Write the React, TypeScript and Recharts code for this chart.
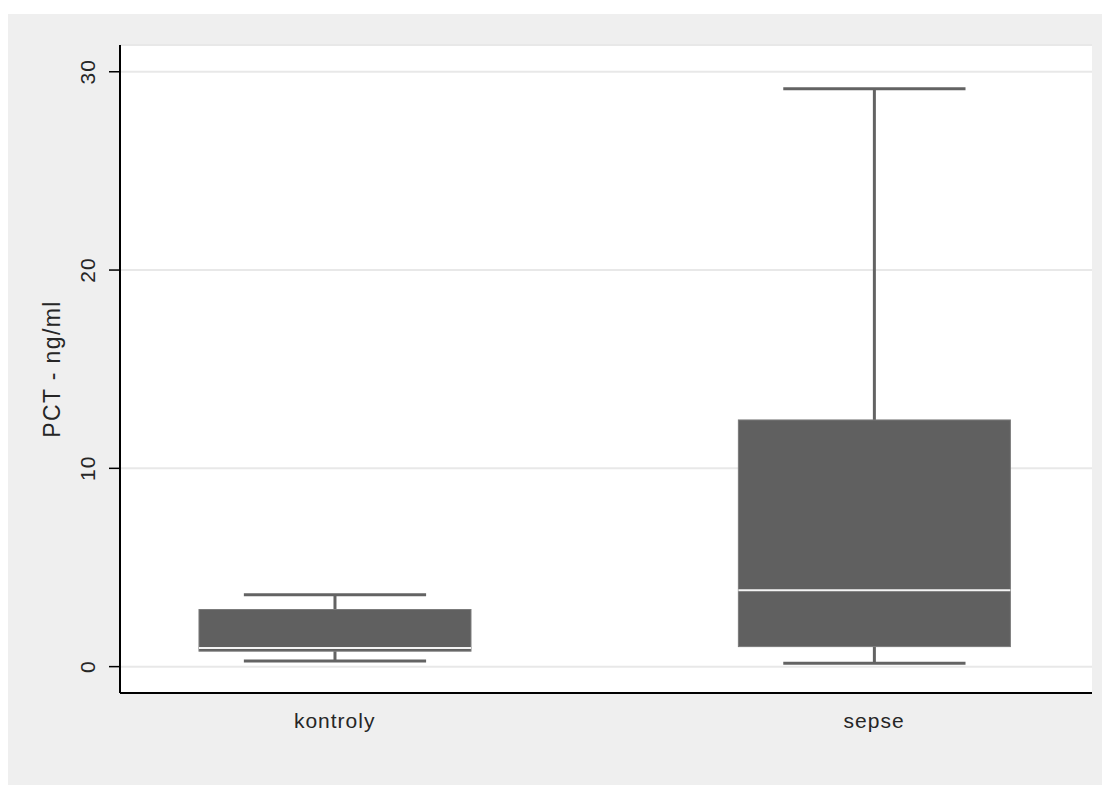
import { ComposedChart, Bar, XAxis, YAxis, CartesianGrid } from "recharts";

const CATEGORIES = ["kontroly", "sepse"];
const POSITIONS = [0, 1];
const MIN = [0.29, 0.17];
const Q1 = [0.78, 1.01];
const MEDIAN = [0.94, 3.85];
const Q3 = [2.88, 12.44];
const MAX = [3.62, 29.14];
const Y_TICKS = [0, 10, 20, 30];

const FONT = "'Liberation Sans', Arial, sans-serif";
const BOX_FILL = "#606060";
const WHISKER = "#636363";
const TEXT = "#262626";

const data = CATEGORIES.map((name, i) => ({
  name,
  pos: POSITIONS[i],
  min: MIN[i],
  q1: Q1[i],
  median: MEDIAN[i],
  q3: Q3[i],
  max: MAX[i],
}));

// the bar spans [min, max]; the other stats are placed along that pixel range
function BoxShape(props: any) {
  const { x, y, width, height, payload } = props;
  const top = Math.min(y, y + height);
  const h = Math.abs(height);
  const span = payload.max - payload.min;
  const py = (v: number) => top + ((payload.max - v) / span) * h;
  const cx = x + width / 2;
  const half = (width * 0.67) / 2;
  const yMax = py(payload.max);
  const yQ3 = py(payload.q3);
  const yMed = py(payload.median);
  const yQ1 = py(payload.q1);
  const yMin = py(payload.min);
  return (
    <g>
      <line x1={cx} x2={cx} y1={yMax} y2={yQ3} stroke={WHISKER} strokeWidth={3} />
      <line x1={cx} x2={cx} y1={yQ1} y2={yMin} stroke={WHISKER} strokeWidth={3} />
      <line x1={cx - half} x2={cx + half} y1={yMax} y2={yMax} stroke={WHISKER} strokeWidth={3} />
      <line x1={cx - half} x2={cx + half} y1={yMin} y2={yMin} stroke={WHISKER} strokeWidth={3} />
      <rect
        x={x}
        y={yQ3}
        width={width}
        height={yQ1 - yQ3}
        fill={BOX_FILL}
        stroke="#7a7a7a"
        strokeWidth={1}
      />
      <line x1={x} x2={x + width} y1={yMed} y2={yMed} stroke="#f4f4f4" strokeWidth={2} />
    </g>
  );
}

function XTick(props: any) {
  const { x, y, payload } = props;
  return (
    <text
      x={x}
      y={y + 35}
      textAnchor="middle"
      fill={TEXT}
      fontSize={21}
      letterSpacing={1}
      fontFamily={FONT}
    >
      {CATEGORIES[payload.value]}
    </text>
  );
}

function YTick(props: any) {
  const { x, y, payload } = props;
  return (
    <text
      transform={`translate(${x - 14},${y}) rotate(-90)`}
      textAnchor="middle"
      fill={TEXT}
      fontSize={21}
      letterSpacing={1}
      fontFamily={FONT}
    >
      {payload.value}
    </text>
  );
}

function YTitle(props: any) {
  const { viewBox } = props;
  const cx = viewBox.x + 52;
  const cy = viewBox.y + viewBox.height / 2;
  return (
    <text
      transform={`translate(${cx},${cy}) rotate(-90)`}
      textAnchor="middle"
      fill={TEXT}
      fontSize={23}
      letterSpacing={1.4}
      fontFamily={FONT}
    >
      PCT - ng/ml
    </text>
  );
}

export default function App() {
  return (
    <div style={{ marginTop: 6, width: 1102, height: 771, background: "#efefef" }}>
      <ComposedChart
        width={1102}
        height={771}
        data={data}
        margin={{ top: 31, right: 18, bottom: 0, left: 0 }}
      >
        <CartesianGrid vertical={false} fill="#ffffff" stroke="#e8e8e8" strokeWidth={2} />
        <XAxis
          type="number"
          dataKey="pos"
          domain={[-0.398, 1.404]}
          ticks={[0, 1]}
          allowDataOverflow
          height={92}
          tickLine={false}
          tickSize={0}
          tickMargin={0}
          axisLine={{ stroke: "#000", strokeWidth: 2 }}
          tick={<XTick />}
        />
        <YAxis
          type="number"
          domain={[-1.33, 31.35]}
          ticks={Y_TICKS}
          allowDataOverflow
          width={112}
          tickSize={11}
          tickMargin={0}
          tickLine={{ stroke: "#000", strokeWidth: 1.5 }}
          axisLine={{ stroke: "#000", strokeWidth: 2 }}
          tick={<YTick />}
          label={<YTitle />}
        />
        <Bar
          dataKey={(d: any) => [d.min, d.max]}
          barSize={272}
          shape={<BoxShape />}
          isAnimationActive={false}
        />
      </ComposedChart>
    </div>
  );
}
